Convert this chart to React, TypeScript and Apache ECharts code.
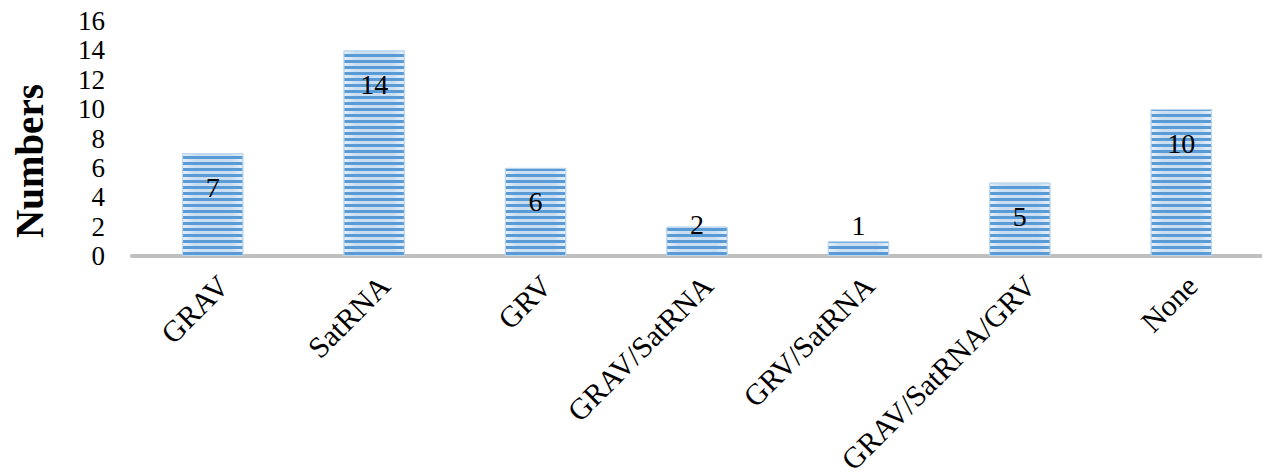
import React, { useEffect, useRef } from "react";
import * as echarts from "echarts";

const categories = ["GRAV", "SatRNA", "GRV", "GRAV/SatRNA", "GRV/SatRNA", "GRAV/SatRNA/GRV", "None"];
const counts = [7, 14, 6, 2, 1, 5, 10];
const yTicks = { min: 0, max: 16, interval: 2 };
const yAxisTitle = "Numbers";

export default function App() {
  const ref = useRef<HTMLDivElement>(null);
  useEffect(() => {
    document.body.style.margin = "0";
    const chart = echarts.init(ref.current!, null, { renderer: "svg" });
    const font = "'Liberation Serif', 'Times New Roman', serif";
    const data = counts.map((v) => {
      if (v <= 2) {
        return {
          value: v,
          label: { position: "top", distance: v === 1 ? 2 : -12 },
        };
      }
      return { value: v };
    });
    chart.setOption({
      animation: false,
      grid: { left: 132, right: 0, top: 21, bottom: 219, outerBoundsMode: "none", containLabel: false },
      xAxis: {
        type: "category",
        data: categories,
        axisLine: { lineStyle: { color: "#BFBFBF", width: 4 } },
        axisTick: { show: false },
        axisLabel: {
          rotate: 45,
          interval: 0,
          margin: 14,
          verticalAlign: "top",
          color: "#000",
          fontFamily: font,
          fontSize: 30,
        },
      },
      yAxis: {
        type: "value",
        min: yTicks.min,
        max: yTicks.max,
        interval: yTicks.interval,
        axisLine: { show: false },
        axisTick: { show: false },
        splitLine: { show: false },
        axisLabel: {
          color: "#000",
          fontFamily: font,
          fontSize: 27,
          lineHeight: 27,
          margin: 27,
        },
      },
      graphic: [
        {
          type: "text",
          x: 29,
          y: 161,
          rotation: Math.PI / 2,
          style: {
            text: yAxisTitle,
            fontFamily: font,
            fontWeight: "bold",
            fontSize: 39,
            fill: "#000",
            align: "center",
            verticalAlign: "middle",
          },
        },
      ],
      series: [
        {
          type: "bar",
          data,
          barWidth: "38%",
          itemStyle: {
            color: {
              type: "linear",
              x: 0,
              y: 0,
              x2: 1,
              y2: 0,
              colorStops: [
                { offset: 0, color: "#E6F0FA" },
                { offset: 0.2, color: "#C9DEF2" },
                { offset: 0.8, color: "#C9DEF2" },
                { offset: 1, color: "#E6F0FA" },
              ],
            },
            borderColor: "#BDD7EE",
            borderWidth: 1,
            decal: {
              symbol: "rect",
              symbolSize: 1,
              dashArrayX: [1, 0],
              dashArrayY: [2.6, 2.4],
              rotation: 0,
              color: "#5B9BD5",
            },
          },
          label: {
            show: true,
            position: "insideTop",
            distance: 20,
            color: "#000",
            fontFamily: font,
            fontSize: 28,
          },
        },
      ],
    });
    return () => chart.dispose();
  }, []);
  return <div ref={ref} style={{ width: 1262, height: 475 }} />;
}
